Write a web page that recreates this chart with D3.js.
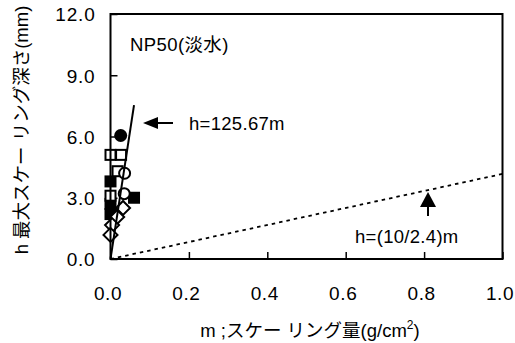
<!DOCTYPE html>
<html>
<head>
<meta charset="utf-8">
<script src="https://cdn.jsdelivr.net/npm/d3@7"></script>
<style>
  html, body { margin: 0; padding: 0; background: #fff; }
  svg { display: block; }
  text { font-family: "Liberation Sans", Arial, "Noto Sans CJK JP", sans-serif; fill: #000; }
</style>
</head>
<body>
<svg id="chart" width="515" height="343"></svg>
<script>
// Scaling amount m (g/cm2) vs. maximum scaling depth h (mm), NP50 fresh water
const xTicks = [0.0, 0.2, 0.4, 0.6, 0.8, 1.0];
const yTicks = [0.0, 3.0, 6.0, 9.0, 12.0];

const filledCircle = [[0.026, 6.05]];
const openSquare   = [[0.0, 5.1], [0.027, 5.1], [0.018, 4.3], [0.0, 3.1]];
const openCircle   = [[0.036, 4.2], [0.035, 3.2]];
const filledSquare = [[0.0, 3.8], [0.06, 3.0], [0.0, 2.7], [0.0, 2.2]];
const openDiamond  = [[0.032, 2.5], [0.017, 2.06], [0.004, 1.66], [0.0, 1.18]];

// Fitted lines h = k * m
const fitSteep = { k: 125.67, mMax: 0.06, label: "h=125.67m" };
const fitFlat  = { k: 10 / 2.4, mMax: 1.0, label: "h=(10/2.4)m" };

const svg = d3.select("#chart");
const plot = { left: 110.5, right: 502.5, top: 14, bottom: 259 };

const x = d3.scaleLinear().domain([0, 1]).range([plot.left, plot.right]);
const y = d3.scaleLinear().domain([0, 12]).range([plot.bottom, plot.top]);

const FS = 18.5;

// Axes with inward ticks
const xAxis = d3.axisBottom(x).tickValues(xTicks).tickSizeInner(-7).tickSizeOuter(0)
  .tickFormat(d3.format(".1f")).tickPadding(41);
const gx = svg.append("g").attr("transform", `translate(0,${plot.bottom})`).call(xAxis);
gx.select(".domain").remove();
gx.selectAll("line").attr("stroke", "#000").attr("stroke-width", 1.5);
gx.selectAll("text").attr("font-size", 19).attr("font-family", null)
  .attr("dy", "0").attr("dx", -3).attr("letter-spacing", 0.6);

const yAxis = d3.axisLeft(y).tickValues(yTicks).tickSizeInner(-7).tickSizeOuter(0)
  .tickFormat(d3.format(".1f")).tickPadding(15);
const gy = svg.append("g").attr("transform", `translate(${plot.left},0)`).call(yAxis);
gy.select(".domain").remove();
gy.selectAll("line").attr("stroke", "#000").attr("stroke-width", 1.5);
gy.selectAll("text").attr("font-size", 19).attr("font-family", null)
  .attr("dy", "0.36em").attr("letter-spacing", 0.8);

// Fitted lines
const lineGen = d3.line().x(d => x(d[0])).y(d => y(d[1]));
svg.append("path")
  .attr("d", lineGen([[0, 0], [fitFlat.mMax, fitFlat.k * fitFlat.mMax]]))
  .attr("fill", "none").attr("stroke", "#000").attr("stroke-width", 1.8)
  .attr("stroke-dasharray", "3.5,4");

// Markers
const g = svg.append("g");
const sq = 12, cr = 6.5, dm = 7;
g.selectAll(".fsq").data(filledSquare).join("rect")
  .attr("x", d => x(d[0]) - sq / 2).attr("y", d => y(d[1]) - sq / 2)
  .attr("width", sq).attr("height", sq).attr("fill", "#000");
g.selectAll(".osq").data(openSquare).join("rect")
  .attr("x", d => x(d[0]) - (sq - 2) / 2).attr("y", d => y(d[1]) - (sq - 2) / 2)
  .attr("width", sq - 2).attr("height", sq - 2)
  .attr("fill", "#fff").attr("stroke", "#000").attr("stroke-width", 2);
g.selectAll(".oc").data(openCircle).join("circle")
  .attr("cx", d => x(d[0])).attr("cy", d => y(d[1])).attr("r", cr - 1)
  .attr("fill", "#fff").attr("stroke", "#000").attr("stroke-width", 2);
g.selectAll(".od").data(openDiamond).join("path")
  .attr("d", d => {
    const cx = x(d[0]), cy = y(d[1]);
    return `M${cx},${cy - dm}L${cx + dm},${cy}L${cx},${cy + dm}L${cx - dm},${cy}Z`;
  })
  .attr("fill", "#fff").attr("stroke", "#000").attr("stroke-width", 2);
g.selectAll(".fc").data(filledCircle).join("circle")
  .attr("cx", d => x(d[0])).attr("cy", d => y(d[1])).attr("r", cr).attr("fill", "#000");

svg.append("path")
  .attr("d", lineGen([[0, 0], [fitSteep.mMax, fitSteep.k * fitSteep.mMax]]))
  .attr("fill", "none").attr("stroke", "#000").attr("stroke-width", 2);

// Plot frame
svg.append("rect")
  .attr("x", plot.left).attr("y", plot.top)
  .attr("width", plot.right - plot.left).attr("height", plot.bottom - plot.top)
  .attr("fill", "none").attr("stroke", "#000").attr("stroke-width", 2);

// Annotations
svg.append("text").attr("x", 130).attr("y", 51).attr("font-size", FS)
  .attr("letter-spacing", 0.4).text("NP50(淡水)");

// left-pointing arrow to the steep fit
svg.append("path").attr("d", "M143,123L158,117L158,129Z").attr("fill", "#000");
svg.append("line").attr("x1", 156).attr("x2", 173).attr("y1", 123).attr("y2", 123)
  .attr("stroke", "#000").attr("stroke-width", 2);
svg.append("text").attr("x", 189).attr("y", 130).attr("font-size", FS)
  .attr("letter-spacing", 0.3).text(fitSteep.label);

// upward arrow to the flat fit
const ax = x(0.81);
svg.append("path").attr("d", `M${ax},192L${ax + 8},207L${ax - 8},207Z`).attr("fill", "#000");
svg.append("line").attr("x1", ax).attr("x2", ax).attr("y1", 205).attr("y2", 216)
  .attr("stroke", "#000").attr("stroke-width", 2);
svg.append("text").attr("x", 355).attr("y", 243).attr("font-size", FS)
  .attr("letter-spacing", 0.3).text(fitFlat.label);

// Axis titles
const xt = svg.append("text").attr("x", 310).attr("y", 337).attr("text-anchor", "middle").attr("font-size", FS);
xt.append("tspan").text("m ;スケー リング量(g/cm");
xt.append("tspan").attr("font-size", FS * 0.65).attr("dy", -8).text("2");
xt.append("tspan").attr("dy", 8).text(")");

svg.append("text")
  .attr("transform", "translate(28,130) rotate(-90)")
  .attr("text-anchor", "middle").attr("font-size", FS)
  .text("h 最大スケー リング深さ(mm)");
</script>
</body>
</html>
